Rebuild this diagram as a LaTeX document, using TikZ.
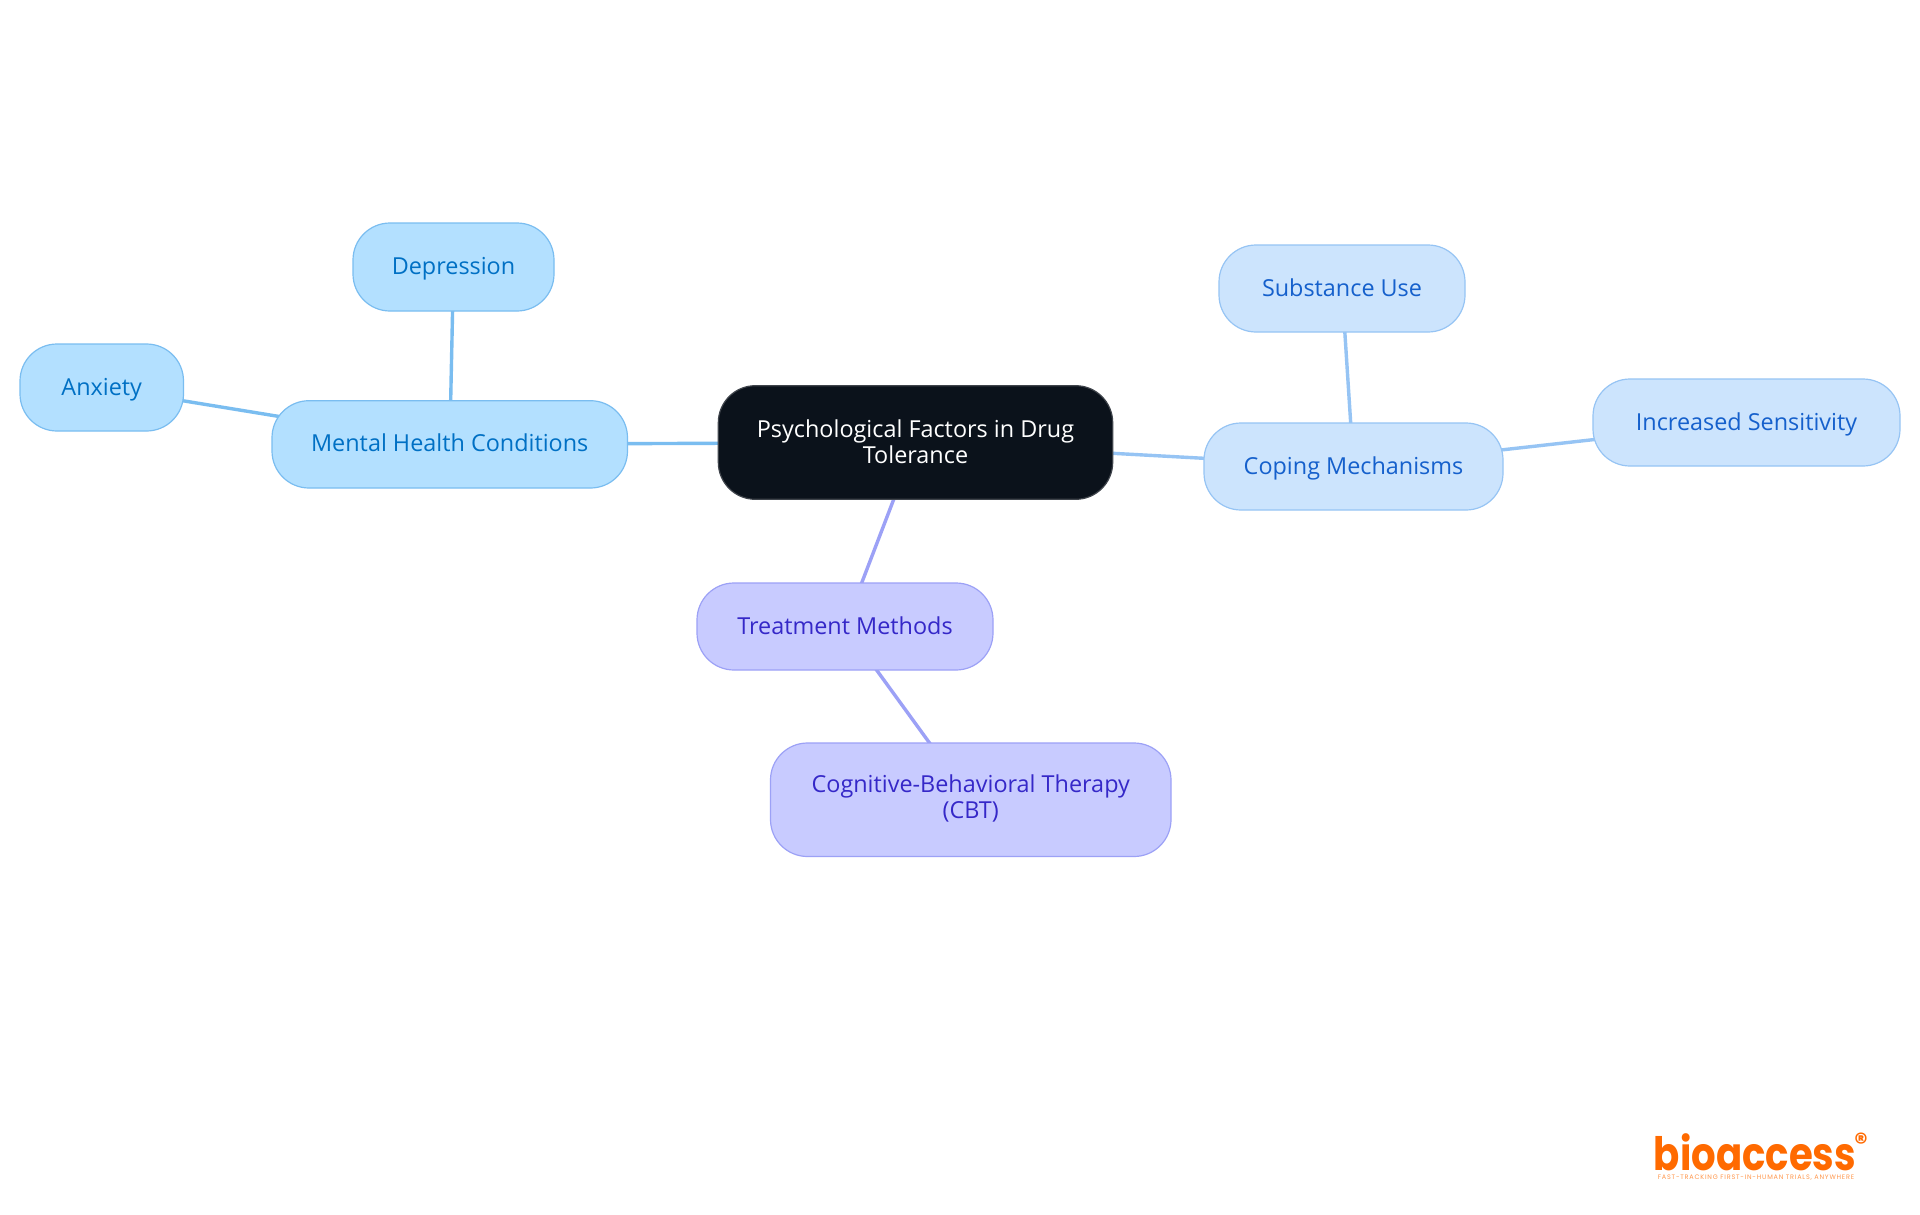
\documentclass[tikz,border=0pt]{standalone}
\usepackage{graphicx}
\usepackage{fontspec}
\setmainfont{Open Sans}
\newfontfamily\logofont{Poppins}
\usetikzlibrary{backgrounds}
\definecolor{rootfill}{HTML}{0B121B}
\definecolor{rootline}{HTML}{3F444B}
\definecolor{skyfill}{HTML}{B3E0FF}
\definecolor{skyline}{HTML}{7ABDF0}
\definecolor{skytext}{HTML}{0070C4}
\definecolor{bluefill}{HTML}{CCE4FD}
\definecolor{blueline}{HTML}{96C4F4}
\definecolor{bluetext}{HTML}{1560CC}
\definecolor{violetfill}{HTML}{C8CBFF}
\definecolor{violetline}{HTML}{9CA1F6}
\definecolor{violettext}{HTML}{3528C8}
\definecolor{logoorange}{HTML}{FF6A00}
\tikzset{
  x=1pt,y=-1pt,
  mapnode/.style={rounded corners=37pt,line width=1.2pt,align=center,inner sep=0pt,font=\fontsize{23.4}{26}\selectfont,anchor=center},
  oneline/.style={text height=17pt,text depth=2pt},
  rootnode/.style={mapnode,fill=rootfill,draw=rootline,text=white,text depth=2.5pt},
  skynode/.style={mapnode,oneline,fill=skyfill,draw=skyline,text=skytext},
  bluenode/.style={mapnode,oneline,fill=bluefill,draw=blueline,text=bluetext},
  violetnode/.style={mapnode,oneline,fill=violetfill,draw=violetline,text=violettext},
  cbtnode/.style={mapnode,fill=violetfill,draw=violetline,text=violettext,text depth=6.2pt},
  skyedge/.style={draw=skyline,line width=3.4pt},
  blueedge/.style={draw=blueline,line width=3.4pt},
  violetedge/.style={draw=violetline,line width=3.4pt},
}
\newcommand{\mapbox}[7]{\node[#1,minimum width=#5pt-#3pt,minimum height=#6pt-#4pt] (#2) at ({(#3+#5)/2},{(#4+#6)/2}) {#7};}
\begin{document}
\begin{tikzpicture}
\useasboundingbox (0,0) rectangle (1920,1215);
\mapbox{rootnode}{root}{718.3}{385.7}{1112.7}{499.3}{Psychological Factors in Drug\\Tolerance}
\mapbox{skynode}{mental}{272}{400.7}{627.5}{488}{Mental Health Conditions}
\mapbox{skynode}{depression}{353}{223}{554}{311}{Depression}
\mapbox{skynode}{anxiety}{20}{344}{183.5}{431}{Anxiety}
\mapbox{bluenode}{coping}{1204}{423}{1503}{510}{Coping Mechanisms}
\mapbox{bluenode}{substance}{1219}{245}{1465}{332}{Substance Use}
\mapbox{bluenode}{sensitivity}{1593}{379}{1900}{466}{Increased Sensitivity}
\mapbox{violetnode}{treatment}{697}{583}{993}{670}{Treatment Methods}
\mapbox{cbtnode}{cbt}{770.5}{743}{1171}{856.5}{Cognitive-Behavioral Therapy\\(CBT)}
\begin{scope}[on background layer]
\fill[white] (0,0) rectangle (1920,1215);
\draw[skyedge] (root.center) -- (mental.center);
\draw[skyedge] (mental.center) -- (depression.center);
\draw[skyedge] (mental.center) -- (anxiety.center);
\draw[blueedge] (root.center) -- (coping.center);
\draw[blueedge] (coping.center) -- (substance.center);
\draw[blueedge] (coping.center) -- (sensitivity.center);
\draw[violetedge] (root.center) -- (treatment.center);
\draw[violetedge] (treatment.center) -- (cbt.center);
\end{scope}
\node[anchor=center,inner sep=0pt,text=logoorange] (logo) at (1755,1152) {\scalebox{.84}[1]{\logofont\bfseries\fontsize{46}{46}\selectfont bioaccess}};
\node[anchor=center,inner sep=0pt,text=logoorange] (reg) at (1861,1142) {\logofont\bfseries\fontsize{26}{26}\selectfont ®};
\node[anchor=center,inner sep=0pt,text=logoorange!70] (tag) at (1756,1178) {\logofont\fontsize{6.5}{7}\selectfont\addfontfeature{LetterSpace=12}FAST-TRACKING FIRST-IN-HUMAN TRIALS, ANYWHERE};
\end{tikzpicture}
\end{document}
